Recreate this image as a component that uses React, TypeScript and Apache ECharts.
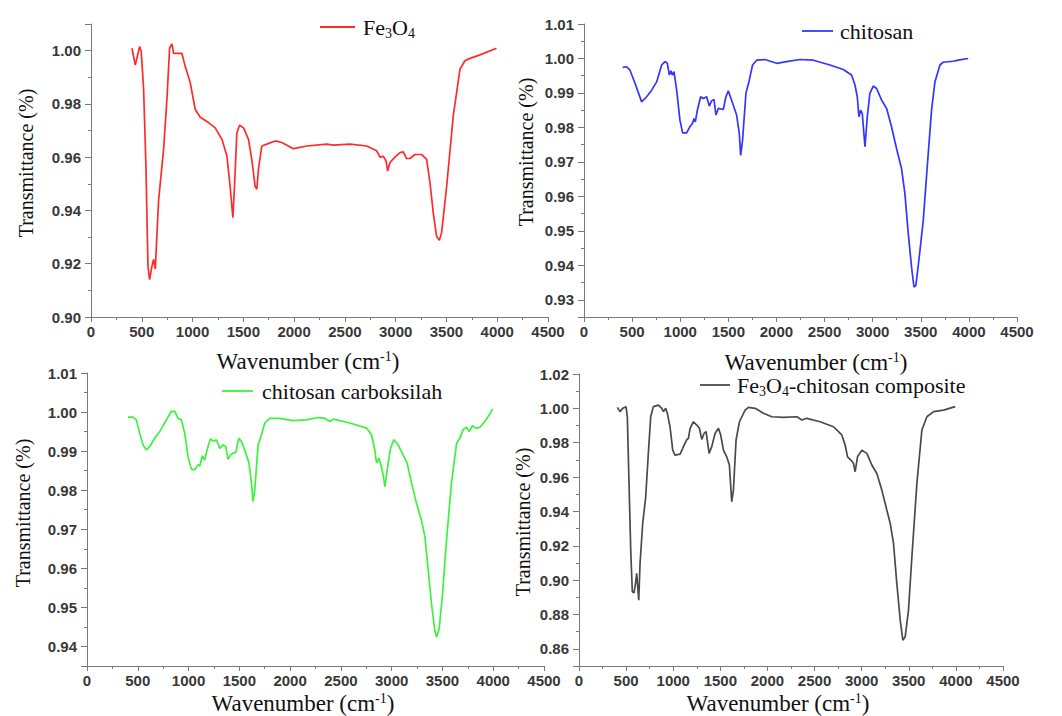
import React, { useEffect, useRef } from "react";
import * as echarts from "echarts";

// ---------- Data ----------
const fe3o4Wavenumber = [403, 436, 479, 495, 518, 541, 561, 577, 600, 616, 633, 666, 715, 748, 774, 797, 813, 895, 928, 977, 1026, 1075, 1157, 1223, 1289, 1338, 1370, 1397, 1413, 1436, 1462, 1502, 1551, 1584, 1616, 1633, 1649, 1682, 1731, 1813, 1879, 1993, 2125, 2321, 2387, 2551, 2715, 2813, 2846, 2879, 2905, 2921, 2944, 2993, 3043, 3075, 3108, 3141, 3190, 3256, 3305, 3338, 3370, 3403, 3430, 3452, 3502, 3567, 3633, 3682, 3731, 3830, 3993];
const fe3o4Transmittance = [1.0009, 0.9946, 1.0016, 0.9995, 0.9856, 0.9567, 0.919, 0.914, 0.919, 0.9216, 0.918, 0.944, 0.963, 0.982, 1.001, 1.0025, 0.999, 0.999, 0.994, 0.988, 0.978, 0.975, 0.973, 0.971, 0.9667, 0.9605, 0.949, 0.9373, 0.949, 0.969, 0.972, 0.971, 0.9667, 0.959, 0.949, 0.948, 0.9555, 0.9642, 0.9649, 0.9661, 0.9655, 0.9632, 0.9642, 0.9649, 0.9645, 0.9649, 0.9642, 0.9624, 0.96, 0.9603, 0.9586, 0.9548, 0.958, 0.96, 0.9617, 0.962, 0.9595, 0.9595, 0.961, 0.961, 0.9592, 0.9504, 0.9391, 0.9303, 0.9288, 0.9316, 0.949, 0.9755, 0.993, 0.9962, 0.9971, 0.9984, 1.0009];

const chitosanWavenumber = [402, 443, 478, 530, 599, 651, 703, 755, 807, 842, 866, 887, 904, 918, 935, 963, 997, 1025, 1067, 1101, 1129, 1143, 1157, 1178, 1212, 1240, 1275, 1302, 1326, 1351, 1371, 1396, 1448, 1475, 1500, 1534, 1586, 1614, 1628, 1648, 1683, 1718, 1752, 1794, 1880, 2002, 2105, 2244, 2383, 2556, 2694, 2781, 2816, 2840, 2857, 2875, 2892, 2920, 2944, 2971, 3006, 3041, 3093, 3145, 3196, 3248, 3300, 3335, 3370, 3404, 3429, 3449, 3484, 3526, 3567, 3612, 3647, 3699, 3733, 3837, 3889, 3993];
const chitosanTransmittance = [0.9974, 0.9976, 0.9966, 0.9928, 0.9874, 0.9889, 0.9908, 0.9932, 0.9981, 0.9991, 0.9986, 0.9952, 0.9964, 0.9952, 0.9962, 0.9908, 0.9821, 0.9784, 0.9784, 0.9802, 0.9813, 0.9826, 0.9816, 0.985, 0.9889, 0.9884, 0.9889, 0.9862, 0.9877, 0.9881, 0.9836, 0.9855, 0.9852, 0.9889, 0.9906, 0.9879, 0.9836, 0.9782, 0.9719, 0.9763, 0.9899, 0.9937, 0.9981, 0.9995, 0.9997, 0.9986, 0.9991, 0.9997, 0.9995, 0.9981, 0.9968, 0.9952, 0.9923, 0.9889, 0.9831, 0.985, 0.984, 0.9744, 0.9831, 0.9899, 0.992, 0.9913, 0.9879, 0.9855, 0.9802, 0.9739, 0.9681, 0.9608, 0.9492, 0.9395, 0.9337, 0.9342, 0.9424, 0.9531, 0.9685, 0.985, 0.9932, 0.9981, 0.9989, 0.9992, 0.9995, 1.0];

const carboxylWavenumber = [404, 453, 486, 519, 552, 585, 617, 667, 716, 782, 831, 864, 897, 929, 962, 995, 1028, 1061, 1094, 1110, 1136, 1159, 1182, 1215, 1248, 1274, 1307, 1340, 1366, 1389, 1412, 1438, 1465, 1494, 1520, 1553, 1596, 1619, 1635, 1652, 1685, 1718, 1750, 1800, 1898, 2030, 2161, 2276, 2342, 2391, 2424, 2588, 2752, 2801, 2834, 2851, 2874, 2894, 2916, 2933, 2956, 2989, 3021, 3064, 3113, 3153, 3196, 3245, 3294, 3327, 3360, 3392, 3425, 3442, 3468, 3501, 3540, 3589, 3639, 3671, 3704, 3737, 3764, 3796, 3829, 3869, 3918, 3961, 3993];
const carboxylTransmittance = [0.9987, 0.9987, 0.998, 0.9946, 0.9916, 0.9903, 0.9912, 0.9933, 0.995, 0.998, 1.0002, 1.0002, 0.9984, 0.998, 0.9946, 0.9886, 0.9854, 0.9852, 0.9865, 0.9862, 0.9888, 0.9877, 0.9903, 0.9931, 0.9925, 0.9929, 0.9907, 0.9916, 0.9912, 0.9879, 0.989, 0.9895, 0.9896, 0.9933, 0.9925, 0.9903, 0.9869, 0.9818, 0.9771, 0.98, 0.9916, 0.9942, 0.9972, 0.9984, 0.9984, 0.9978, 0.998, 0.9986, 0.9984, 0.9976, 0.9982, 0.9972, 0.9959, 0.9942, 0.9903, 0.9869, 0.9882, 0.9865, 0.9839, 0.9809, 0.9852, 0.9907, 0.9929, 0.9916, 0.989, 0.9869, 0.9818, 0.9766, 0.9723, 0.9681, 0.9595, 0.951, 0.9441, 0.9424, 0.9445, 0.9535, 0.9672, 0.9818, 0.992, 0.9933, 0.9955, 0.9961, 0.995, 0.9965, 0.9959, 0.9961, 0.9976, 0.9993, 1.0008];

const compositeWavenumber = [407, 435, 464, 499, 513, 531, 549, 566, 584, 602, 612, 623, 634, 648, 676, 708, 736, 761, 789, 843, 878, 896, 920, 938, 966, 995, 1019, 1073, 1101, 1115, 1143, 1161, 1179, 1214, 1250, 1278, 1303, 1327, 1349, 1381, 1409, 1444, 1480, 1504, 1533, 1568, 1596, 1621, 1639, 1667, 1703, 1763, 1798, 1869, 1958, 2046, 2170, 2312, 2365, 2418, 2559, 2701, 2789, 2825, 2850, 2885, 2913, 2931, 2956, 3002, 3055, 3108, 3161, 3214, 3267, 3303, 3338, 3373, 3409, 3437, 3462, 3497, 3533, 3586, 3639, 3692, 3763, 3869, 3993];
const compositeTransmittance = [1.0006, 0.9981, 1.0, 1.001, 0.9951, 0.9563, 0.9175, 0.8932, 0.8926, 0.899, 0.9039, 0.8961, 0.8883, 0.9097, 0.933, 0.9485, 0.9738, 0.9951, 1.001, 1.0019, 1.0, 0.9981, 1.0, 0.9971, 0.9893, 0.9757, 0.9728, 0.9734, 0.9767, 0.9786, 0.9816, 0.9825, 0.9884, 0.9922, 0.9903, 0.9884, 0.9819, 0.9854, 0.9864, 0.9738, 0.9777, 0.9854, 0.9884, 0.9845, 0.9757, 0.9718, 0.967, 0.9456, 0.9524, 0.9816, 0.9922, 0.999, 1.0006, 1.0, 0.9971, 0.9951, 0.9948, 0.9951, 0.9932, 0.9942, 0.9922, 0.9893, 0.9845, 0.9786, 0.9718, 0.9699, 0.968, 0.9631, 0.9718, 0.9757, 0.9738, 0.967, 0.9621, 0.9524, 0.9408, 0.933, 0.9214, 0.8981, 0.8767, 0.865, 0.867, 0.8825, 0.9136, 0.9563, 0.9874, 0.9951, 0.9981, 0.999, 1.001];

const xTickMin = 0;
const xTickMax = 4500;
const xTickInterval = 500;

// ---------- helpers ----------
const zip = (xs: number[], ys: number[]) => xs.map((x, i) => [x, ys[i]]);

const SERIF = "Liberation Serif";
const SANS = "Liberation Sans";
const AXIS_COLOR = "#7a7a7a";
const LABEL_COLOR = "#383838";
const TEXT_COLOR = "#111111";

const panels = [
  { grid: { left: 91, top: 24, width: 457, height: 293 }, y: { min: 0.9, max: 1.01, interval: 0.02, hideMax: true } },
  { grid: { left: 584, top: 24, width: 433, height: 293 }, y: { min: 0.925, max: 1.01, splitNumber: 8, hideMin: true } },
  { grid: { left: 87, top: 373, width: 457, height: 293 }, y: { min: 0.935, max: 1.01, splitNumber: 7, hideMin: true } },
  { grid: { left: 579, top: 374, width: 424, height: 292 }, y: { min: 0.85, max: 1.02, splitNumber: 8, hideMin: true } },
];

const seriesDefs = [
  { name: "Fe3O4", color: "#ff2b2b", data: zip(fe3o4Wavenumber, fe3o4Transmittance) },
  { name: "chitosan", color: "#3535ff", data: zip(chitosanWavenumber, chitosanTransmittance) },
  { name: "chitosan carboksilah", color: "#3df23d", data: zip(carboxylWavenumber, carboxylTransmittance) },
  { name: "Fe3O4-chitosan composite", color: "#4a4a4a", data: zip(compositeWavenumber, compositeTransmittance) },
];

const legendRich = {
  n: { fontSize: 22, fontFamily: SERIF, color: TEXT_COLOR, lineHeight: 26 },
  s: { fontSize: 14, fontFamily: SERIF, color: TEXT_COLOR, lineHeight: 14, verticalAlign: "bottom" },
};

const legendDefs = [
  { x1: 320, x2: 355, y: 27, tx: 363, text: "{n|Fe}{s|3}{n|O}{s|4}" },
  { x1: 802, x2: 833, y: 31, tx: 840, text: "{n|chitosan}" },
  { x1: 222, x2: 253, y: 391, tx: 262, text: "{n|chitosan carboksilah}" },
  { x1: 700, x2: 730, y: 385, tx: 737, text: "{n|Fe}{s|3}{n|O}{s|4}{n|-chitosan composite}" },
];

const xTitleDefs = [
  { x: 308, y: 361 },
  { x: 816, y: 362 },
  { x: 303, y: 703 },
  { x: 778, y: 703 },
];
const yTitleDefs = [
  { x: 26, y: 163 },
  { x: 526, y: 152 },
  { x: 23, y: 513 },
  { x: 523, y: 522 },
];

const xTitleRich = {
  n: { fontSize: 23, fontFamily: SERIF, color: TEXT_COLOR, lineHeight: 24 },
  p: { fontSize: 14, fontFamily: SERIF, color: TEXT_COLOR, lineHeight: 12, verticalAlign: "top" },
};

export default function App() {
  const ref = useRef<HTMLDivElement>(null);

  useEffect(() => {
    if (!ref.current) return;
    const chart = echarts.init(ref.current, undefined, { renderer: "svg" });

    const graphic: any[] = [];
    legendDefs.forEach((l, i) => {
      graphic.push({
        type: "line",
        shape: { x1: l.x1, y1: l.y, x2: l.x2, y2: l.y },
        style: { stroke: seriesDefs[i].color, lineWidth: 1.8 },
        silent: true,
      });
      graphic.push({
        type: "text",
        x: l.tx,
        y: l.y,
        style: {
          text: l.text,
          rich: legendRich,
          fontFamily: SERIF,
          fontSize: 22,
          fill: TEXT_COLOR,
          align: "left",
          verticalAlign: "middle",
        },
        silent: true,
      });
    });
    xTitleDefs.forEach((t) => {
      graphic.push({
        type: "text",
        x: t.x,
        y: t.y,
        style: {
          text: "{n|Wavenumber (cm}{p|-1}{n|)}",
          rich: xTitleRich,
          fontFamily: SERIF,
          fontSize: 23,
          fill: TEXT_COLOR,
          align: "center",
          verticalAlign: "middle",
        },
        silent: true,
      });
    });
    yTitleDefs.forEach((t) => {
      graphic.push({
        type: "text",
        x: t.x,
        y: t.y,
        rotation: Math.PI / 2,
        style: {
          text: "Transmittance (%)",
          fontFamily: SERIF,
          fontSize: 20,
          fill: TEXT_COLOR,
          align: "center",
          verticalAlign: "middle",
        },
        silent: true,
      });
    });

    const option: any = {
      animation: false,
      backgroundColor: "#ffffff",
      grid: panels.map((p) => ({ ...p.grid, containLabel: false })),
      xAxis: panels.map((p, i) => ({
        type: "value",
        gridIndex: i,
        min: xTickMin,
        max: xTickMax,
        interval: xTickInterval,
        axisLine: { show: true, lineStyle: { color: AXIS_COLOR, width: 1 } },
        axisTick: { show: true, length: 5, lineStyle: { color: AXIS_COLOR } },
        minorTick: { show: true, splitNumber: 2, length: 3, lineStyle: { color: AXIS_COLOR } },
        splitLine: { show: false },
        axisLabel: {
          color: LABEL_COLOR,
          fontWeight: "bold",
          fontSize: 15,
          fontFamily: SANS,
          margin: 7,
          formatter: (v: number) => String(v),
        },
      })),
      yAxis: panels.map((p, i) => ({
        type: "value",
        gridIndex: i,
        min: p.y.min,
        max: p.y.max,
        ...(p.y.interval ? { interval: p.y.interval } : { splitNumber: p.y.splitNumber }),
        axisLine: { show: true, lineStyle: { color: AXIS_COLOR, width: 1 } },
        axisTick: { show: true, length: 6, lineStyle: { color: AXIS_COLOR } },
        minorTick: { show: true, splitNumber: 2, length: 3, lineStyle: { color: AXIS_COLOR } },
        splitLine: { show: false },
        axisLabel: {
          color: LABEL_COLOR,
          fontWeight: "bold",
          fontSize: 15,
          fontFamily: SANS,
          margin: 10,
          showMaxLabel: p.y.hideMax ? false : undefined,
          showMinLabel: p.y.hideMin ? false : undefined,
          formatter: (v: number) => v.toFixed(2),
        },
      })),
      series: seriesDefs.map((s, i) => ({
        name: s.name,
        type: "line",
        xAxisIndex: i,
        yAxisIndex: i,
        data: s.data,
        showSymbol: false,
        symbol: "none",
        smooth: false,
        lineStyle: { color: s.color, width: 1.7 },
        itemStyle: { color: s.color },
      })),
      graphic,
    };

    chart.setOption(option);
    return () => chart.dispose();
  }, []);

  return (
    <div
      ref={ref}
      style={{ position: "absolute", left: 0, top: 0, width: 1062, height: 716 }}
    />
  );
}
